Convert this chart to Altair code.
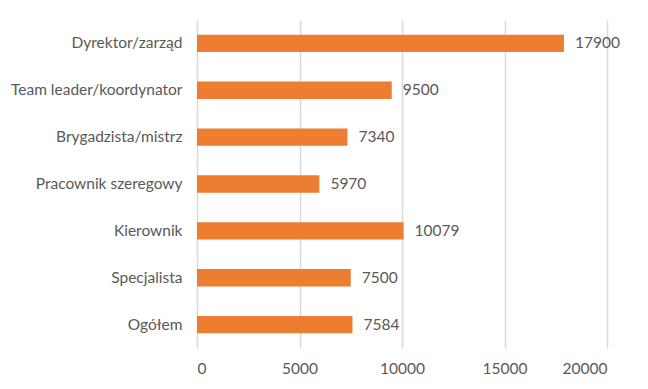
import altair as alt
import pandas as pd

categories = ["Dyrektor/zarząd", "Team leader/koordynator", "Brygadzista/mistrz",
              "Pracownik szeregowy", "Kierownik", "Specjalista", "Ogółem"]
values = [17900, 9500, 7340, 5970, 10079, 7500, 7584]
x_ticks = [0, 5000, 10000, 15000, 20000]

df = pd.DataFrame({"cat": categories, "val": values})

FONT = "Lato"
TXT = "#595959"

y = alt.Y("cat:N", sort=categories, title=None,
          scale=alt.Scale(paddingInner=0.63, paddingOuter=0.315),
          axis=alt.Axis(domain=False, ticks=False, labelPadding=15, labelFontSize=15.5,
                        labelFont=FONT, labelColor=TXT, labelLimit=250))
x = alt.X("val:Q", title=None, scale=alt.Scale(domain=[0, 20000], nice=False),
          axis=alt.Axis(values=x_ticks, domain=False, ticks=False, grid=True,
                        gridColor="#D9D9D9", gridWidth=1.5, labelPadding=13,
                        labelFontSize=15.5, labelFont=FONT, labelColor=TXT, format="d"))

bars = alt.Chart(df).mark_bar(color="#ED7D31").encode(x=x, y=y)
labels = alt.Chart(df).mark_text(align="left", dx=11, fontSize=15.5, font=FONT, color=TXT).encode(
    x="val:Q", y=alt.Y("cat:N", sort=categories), text=alt.Text("val:Q", format="d"))

chart = (bars + labels).properties(
    width=410, height=328,
    autosize=alt.AutoSizeParams(type="none"),
    padding={"left": 189, "top": 12, "right": 33, "bottom": 33},
    background="white",
).configure_view(stroke=None)

chart.save("out.html", embed_options={"renderer": "svg", "actions": False})
